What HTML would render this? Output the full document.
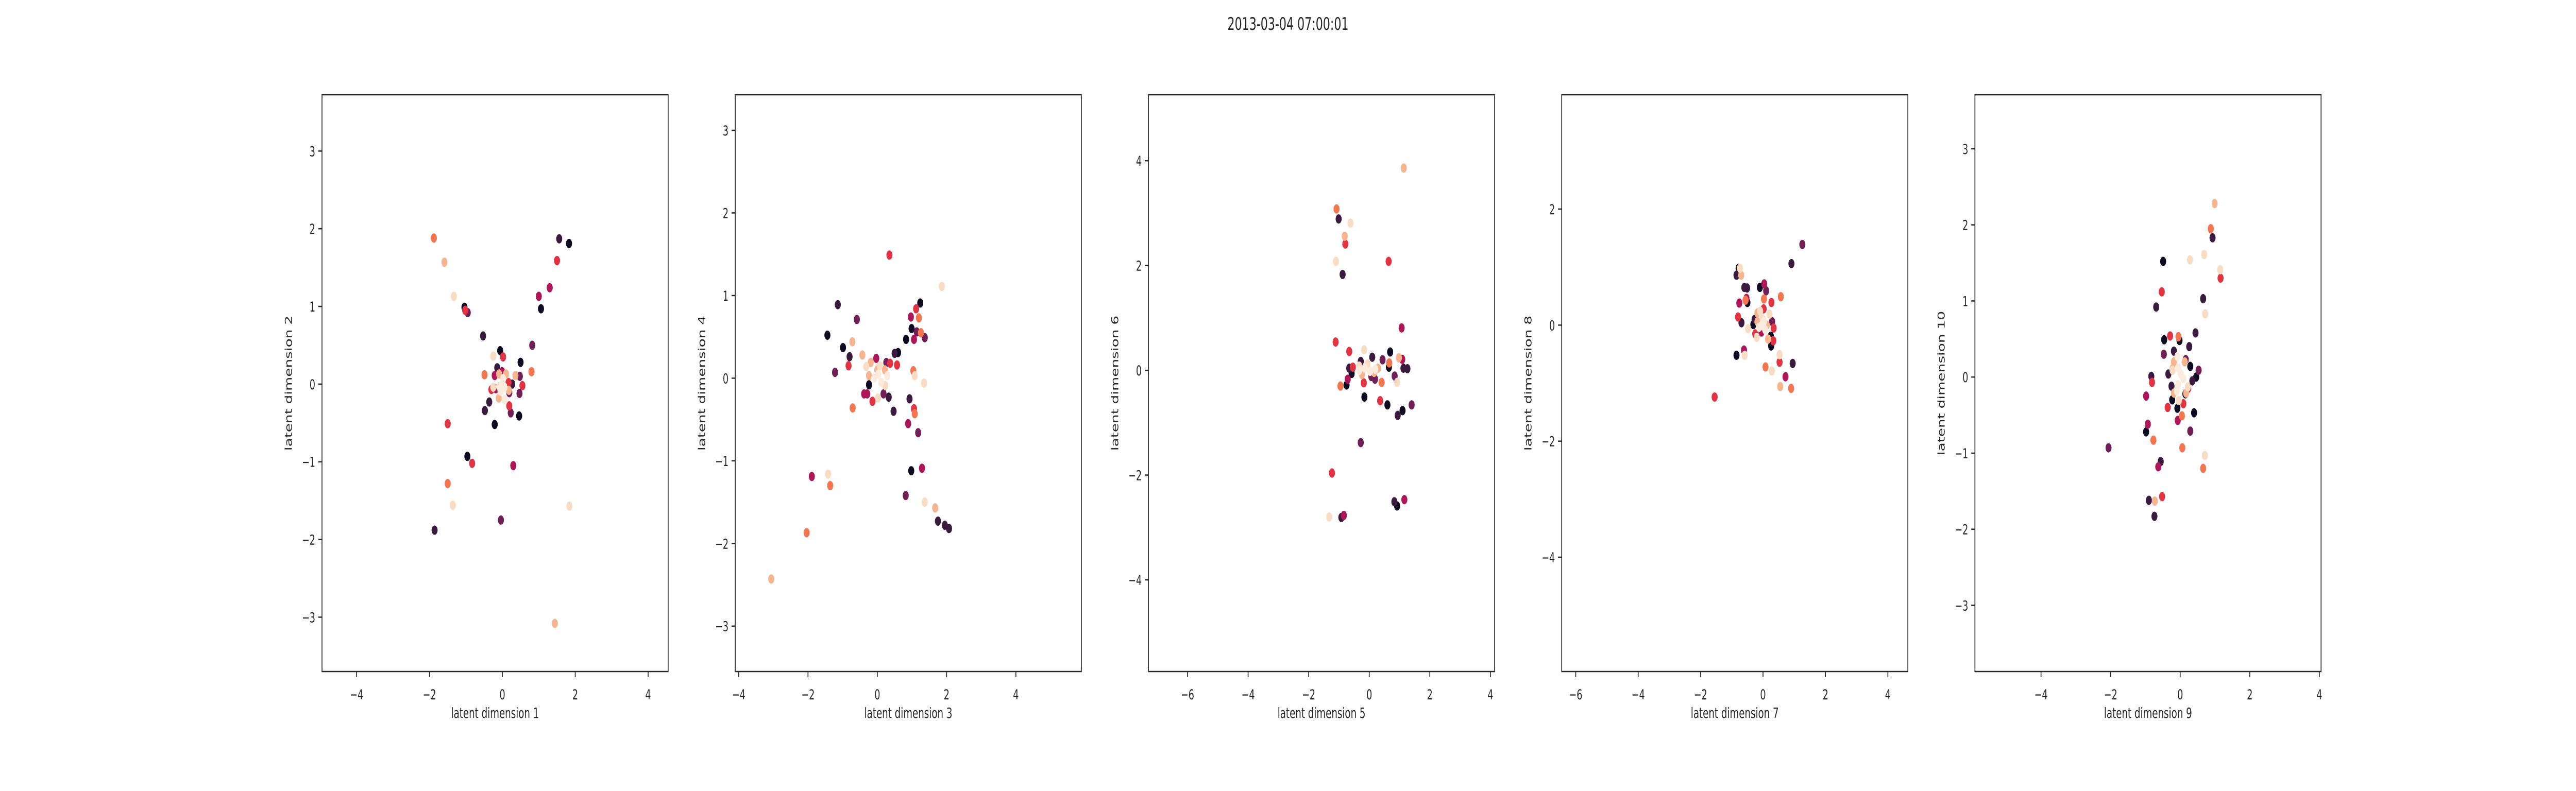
<!DOCTYPE html>
<html><head><meta charset="utf-8"><style>
html,body{margin:0;padding:0;background:#fff;width:100%;height:100%;overflow:hidden;}
svg{display:block;width:100vw;height:100vh;font-family:"DejaVu Sans","Liberation Sans",sans-serif;}
</style></head><body>
<svg id="fig" viewBox="0 0 7680 1536" preserveAspectRatio="none" xmlns="http://www.w3.org/2000/svg">
<rect width="7680" height="1536" fill="#fff"/>
<text x="3840" y="58" font-size="34" text-anchor="middle" fill="#262626">2013-03-04 07:00:01</text>
</svg>
<script>
const palette = ["#0d0a22","#3b1a3f","#701f57","#ad1759","#e13342","#f37651","#f6b48f","#f9dcc4","#faebdd"];
const xLabels = ["latent dimension 1","latent dimension 3","latent dimension 5","latent dimension 7","latent dimension 9"];
const yLabels = ["latent dimension 2","latent dimension 4","latent dimension 6","latent dimension 8","latent dimension 10"];
const xLims = [[-4.95,4.55],[-4.10,5.89],[-7.29,4.14],[-6.45,4.64],[-5.90,4.05]];
const yLims = [[-3.70,3.725],[-3.55,3.43],[-5.75,5.26],[-5.97,3.97],[-3.87,3.71]];
const xTicks = [[-4,-2,0,2,4],[-4,-2,0,2,4],[-6,-4,-2,0,2,4],[-6,-4,-2,0,2,4],[-4,-2,0,2,4]];
const yTicks = [[-3,-2,-1,0,1,2,3],[-3,-2,-1,0,1,2,3],[-4,-2,0,2,4],[-4,-2,0,2],[-3,-2,-1,0,1,2,3]];

const p1x = [-1.88,-1.59,-1.33,-1.04,-0.95,-1.02,-0.53,1.56,1.83,1.50,1.30,1.0,1.06,0.82,-0.06,0.50,0.02,-0.25,-0.14,-0.49,0.80,0.36,0.48,0.55,0.27,0.47,0.19,-0.48,-0.36,-0.21,0.46,0.23,0.19,-0.10,0.06,-1.50,-0.96,-0.83,0.30,-1.50,-1.36,1.84,-1.86,-0.04,1.44,-0.21,-0.30,-0.25,-0.09,0.10,0.0,-0.09,0.02,0.18,0.17,-0.01,-0.18,-0.05,0.06];
const p1y = [1.88,1.57,1.13,0.99,0.92,0.95,0.62,1.87,1.81,1.59,1.24,1.13,0.97,0.50,0.43,0.28,0.35,0.36,0.21,0.12,0.16,0.11,0.10,-0.02,0.0,-0.12,-0.11,-0.34,-0.23,-0.52,-0.41,-0.37,-0.28,-0.18,-0.20,-0.51,-0.93,-1.02,-1.05,-1.28,-1.56,-1.57,-1.88,-1.75,-3.08,0.11,-0.07,-0.04,0.13,0.13,0.0,-0.03,0.07,-0.08,0.02,0.16,-0.06,-0.09,-0.04];
const p1c = [5,6,7,0,2,4,1,1,0,4,3,3,0,2,0,0,4,7,1,5,5,6,2,4,1,2,2,1,1,0,0,2,4,6,8,4,0,4,3,5,7,7,1,2,6,3,4,7,6,6,8,8,8,6,4,3,3,8,8];

const p2x = [0.35,1.86,-1.14,1.24,1.12,0.97,1.20,-0.59,0.99,1.14,1.26,1.37,1.06,0.83,-1.44,-0.72,-0.99,-0.80,-0.43,0.60,0.50,-1.22,-0.83,0.37,0.57,0.26,-0.03,-0.32,-0.19,1.04,1.08,1.35,0.29,0.23,-0.38,-0.29,0.18,-0.14,0.02,0.33,0.93,-0.71,0.47,1.06,1.08,0.89,1.18,0.98,1.29,-1.89,-1.42,-1.36,0.82,1.37,1.67,1.75,1.95,2.07,-2.04,-3.06,-0.24,-0.09,0.03,0.11,0.0,0.22,-0.24,0.07];
const p2y = [1.49,1.11,0.89,0.91,0.84,0.74,0.73,0.71,0.60,0.56,0.55,0.49,0.47,0.47,0.52,0.44,0.37,0.26,0.28,0.31,0.30,0.07,0.15,0.18,0.16,0.19,0.24,0.14,0.19,0.09,0.03,-0.06,0.03,-0.09,-0.19,-0.19,-0.19,-0.28,-0.24,-0.23,-0.25,-0.36,-0.40,-0.37,-0.43,-0.55,-0.66,-1.12,-1.09,-1.19,-1.16,-1.30,-1.42,-1.50,-1.57,-1.73,-1.78,-1.82,-1.87,-2.43,-0.08,0.0,0.05,-0.05,0.1,0.1,0.03,0.15];
const p2c = [4,7,1,0,4,3,5,2,0,2,5,2,3,0,0,6,0,1,6,0,1,2,4,4,4,2,3,7,6,5,7,7,8,7,3,3,2,4,7,1,1,5,1,4,5,3,2,0,3,3,7,5,2,7,6,1,1,1,5,6,0,8,8,8,6,6,6,7];

const p3x = [1.14,-1.08,-1.01,-0.62,-0.81,-0.79,-1.10,0.64,-0.88,1.07,-1.11,-0.66,-0.17,0.69,0.10,0.44,-0.28,0.98,1.09,0.66,0.65,1.13,1.26,-0.66,-0.54,-0.58,0.84,0.92,0.41,-0.71,-0.75,-0.95,-0.18,0.19,-0.16,0.36,0.60,1.10,1.40,0.94,-0.28,-1.23,0.83,1.16,0.92,-1.32,-0.92,-0.84,-0.33,-0.15,0.03,0.20,-0.06,0.16,0.29,-0.24,0.07,-0.33];
const p3y = [3.86,3.08,2.89,2.81,2.56,2.41,2.08,2.08,1.83,0.81,0.54,0.36,0.39,0.35,0.25,0.20,0.17,0.24,0.21,0.14,0.06,0.04,0.03,0.04,0.06,-0.06,-0.11,-0.23,-0.23,-0.17,-0.28,-0.30,-0.24,-0.17,-0.51,-0.58,-0.66,-0.77,-0.66,-0.86,-1.38,-1.96,-2.51,-2.47,-2.59,-2.80,-2.81,-2.77,0.0,0.04,-0.02,0.02,0.12,-0.04,0.04,-0.08,-0.12,0.08];
const p3c = [6,5,1,7,6,4,7,4,1,3,4,4,7,0,1,2,1,6,3,5,0,1,1,1,4,0,2,7,5,3,0,5,4,2,0,4,0,0,2,1,2,4,1,3,0,7,1,3,8,8,8,8,7,6,6,6,2,7];

const p4x = [1.26,0.91,-0.78,-0.74,-0.70,-0.85,-0.60,-0.51,-0.10,0.04,0.10,0.57,-0.53,-0.56,-0.50,-0.76,0.03,0.27,0.02,-0.80,-0.69,-0.48,-0.31,-0.27,-0.18,-0.09,0.21,0.29,0.34,0.25,0.33,0.26,-0.20,-0.25,0.16,-0.61,-0.59,-0.85,0.53,0.53,0.95,0.08,0.28,0.72,0.55,0.90,-1.55,-0.05,0.03,0.07,-0.13,-0.01,0.12,-0.18,-0.05];
const p4y = [1.39,1.06,0.98,0.98,0.86,0.86,0.65,0.64,0.65,0.71,0.59,0.49,0.46,0.43,0.39,0.38,0.45,0.39,0.28,0.14,0.04,-0.06,0.01,0.10,0.21,0.24,0.19,0.06,-0.05,-0.19,-0.27,-0.36,-0.21,-0.15,-0.24,-0.43,-0.52,-0.52,-0.51,-0.64,-0.66,-0.72,-0.79,-0.89,-1.06,-1.09,-1.24,-0.01,0.06,-0.08,-0.04,0.10,0.0,0.06,-0.12];
const p4c = [2,1,0,7,6,1,1,1,0,3,2,5,3,5,0,3,5,4,4,4,1,7,0,1,6,7,7,2,4,0,4,0,7,4,6,3,7,0,7,4,1,5,7,3,6,5,4,8,8,8,8,7,6,6,3];

const p5x = [0.99,0.88,0.93,-0.49,0.28,0.69,1.15,1.16,-0.53,0.66,-0.69,0.72,0.44,-0.29,-0.05,-0.46,-0.02,0.26,-0.47,-0.18,0.16,0.29,0.53,-0.34,-0.83,0.46,0.35,-0.25,-0.81,-0.98,-0.23,0.23,0.15,-0.36,-0.08,0.09,0.05,0.40,-0.07,-0.93,0.29,-0.98,-0.77,-2.06,0.06,0.71,-0.56,-0.63,0.66,-0.52,-0.90,-0.73,-0.74,-0.18,-0.08,0.13,-0.22,-0.06,0.02,0.09,-0.06,-0.10,-0.18,0.17,0.22,-0.04,-0.22];
const p5y = [2.28,1.95,1.83,1.52,1.54,1.61,1.41,1.30,1.12,1.03,0.92,0.83,0.58,0.54,0.53,0.49,0.48,0.40,0.30,0.34,0.23,0.14,0.09,0.04,0.01,0.0,-0.05,-0.12,-0.07,-0.25,-0.30,-0.15,-0.22,-0.40,-0.41,-0.35,-0.51,-0.47,-0.57,-0.62,-0.71,-0.72,-0.83,-0.93,-0.93,-1.03,-1.11,-1.18,-1.20,-1.57,-1.62,-1.63,-1.83,0.20,0.27,0.20,0.09,0.12,0.04,-0.02,-0.10,-0.18,-0.21,-0.21,-0.13,-0.31,0.11];
const p5c = [6,5,1,0,7,7,7,4,4,1,1,7,1,4,5,0,0,1,2,1,2,0,2,1,1,0,1,1,4,3,0,4,0,4,0,4,5,0,3,3,2,0,5,2,5,7,1,3,5,4,1,6,1,6,8,6,7,8,8,8,8,8,6,6,7,7,6];

const allX = [p1x,p2x,p3x,p4x,p5x];
const allY = [p1y,p2y,p3y,p4y,p5y];
const allC = [p1c,p2c,p3c,p4c,p5c];

const NS = "http://www.w3.org/2000/svg";
const svg = document.getElementById("fig");
const AX_TOP = 184, AX_BOTTOM = 1304, AX_W = 1032, AX_STEP = 1232, AX_LEFT0 = 960;
const INK = "#262626";
function mk(tag, attrs, parent) {
  const e = document.createElementNS(NS, tag);
  for (const k in attrs) e.setAttribute(k, attrs[k]);
  parent.appendChild(e);
  return e;
}
for (let p = 0; p < 5; p++) {
  const L = AX_LEFT0 + p * AX_STEP;
  const [x0, x1] = xLims[p], [y0, y1] = yLims[p];
  const sx = v => L + (v - x0) / (x1 - x0) * AX_W;
  const sy = v => AX_BOTTOM - (v - y0) / (y1 - y0) * (AX_BOTTOM - AX_TOP);
  const g = mk("g", {}, svg);
  
  
  const idx = allX[p].map((_, i) => i).sort((a, b) => allC[p][a] - allC[p][b]);
  for (const i of idx) {
    const c = mk("circle", {cx: sx(allX[p][i]).toFixed(1), cy: sy(allY[p][i]).toFixed(1), r: 9, fill: palette[allC[p][i]]}, g);
    
    
  }
  const frame = mk("rect", {x: L, y: AX_TOP, width: AX_W, height: AX_BOTTOM - AX_TOP, fill: "none", stroke: INK, "stroke-width": 2.5}, g);
  
  
  for (const t of xTicks[p]) {
    const x = sx(t);
    const tk = mk("line", {x1: x, x2: x, y1: AX_BOTTOM, y2: AX_BOTTOM + 11, stroke: INK, "stroke-width": 2.5}, g);
    
    
    const tl = mk("text", {x: x, y: AX_BOTTOM + 54, "font-size": 27, "text-anchor": "middle", fill: INK}, g);
    
    
    tl.textContent = t < 0 ? "\u2212" + Math.abs(t) : String(t);
  }
  for (const t of yTicks[p]) {
    const y = sy(t);
    const tk = mk("line", {x1: L - 11, x2: L, y1: y, y2: y, stroke: INK, "stroke-width": 2.5}, g);
    
    
    const tl = mk("text", {x: L - 20, y: y + 10, "font-size": 27, "text-anchor": "end", fill: INK}, g);
    
    
    tl.textContent = t < 0 ? "\u2212" + Math.abs(t) : String(t);
  }
  const xl = mk("text", {x: L + AX_W / 2, y: AX_BOTTOM + 90, "font-size": 28, "text-anchor": "middle", fill: INK}, g);
  
  
  xl.textContent = xLabels[p];
  const yc = (AX_TOP + AX_BOTTOM) / 2, yx = L - 90;
  const yl = mk("text", {x: yx, y: yc, "font-size": 28, "text-anchor": "middle", fill: INK, transform: `rotate(-90 ${yx} ${yc})`}, g);
  
  
  yl.textContent = yLabels[p];
}
</script>
</body></html>
